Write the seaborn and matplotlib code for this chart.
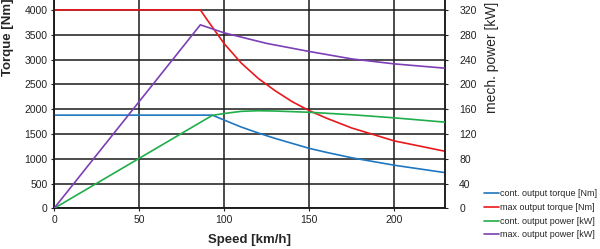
import matplotlib
matplotlib.use("Agg")
import matplotlib.pyplot as plt
import seaborn as sns
import pandas as pd

sns.set_theme(style="white")
plt.rcParams['font.family'] = ['Liberation Sans', 'DejaVu Sans']

# Data
cont_torque_speed = [0, 93, 100, 110, 120, 130, 140, 150, 160, 175, 200, 230]
cont_torque = [1880, 1880, 1780, 1640, 1520, 1410, 1310, 1210, 1130, 1020, 870, 720]

max_torque_speed = [0, 86, 90, 100, 110, 120, 130, 140, 150, 160, 175, 200, 230]
max_torque = [4000, 4000, 3800, 3320, 2930, 2620, 2370, 2150, 1970, 1820, 1620, 1360, 1150]

cont_power_speed = [0, 93, 100, 110, 120, 130, 150, 175, 200, 230]
cont_power = [0, 150, 153, 156.5, 157.5, 157, 155, 151, 146, 139]

max_power_speed = [0, 86, 100, 125, 150, 175, 200, 230]
max_power = [0, 296, 283, 266, 253, 241, 233, 226]

labels = ["cont. output torque [Nm]", "max output torque [Nm]",
          "cont. output power [kW]", "max. output power [kW]"]
colors = ["#1f77c0", "#e8191c", "#1fae4a", "#7d3fb5"]

x_ticks = [0, 50, 100, 150, 200]
y_ticks_left = list(range(0, 4001, 500))
y_ticks_right = list(range(0, 321, 40))

fig = plt.figure(figsize=(6.0, 2.49), dpi=100)
ax = fig.add_axes([0.09, 0.163, 0.651, 0.837])
ax2 = ax.twinx()

df_ct = pd.DataFrame({"speed": cont_torque_speed, "val": cont_torque})
df_mt = pd.DataFrame({"speed": max_torque_speed, "val": max_torque})
df_cp = pd.DataFrame({"speed": cont_power_speed, "val": cont_power})
df_mp = pd.DataFrame({"speed": max_power_speed, "val": max_power})

lw = 1.2
sns.lineplot(data=df_ct, x="speed", y="val", ax=ax, color=colors[0], lw=lw, label=labels[0], legend=False, zorder=5)
sns.lineplot(data=df_mt, x="speed", y="val", ax=ax, color=colors[1], lw=lw, label=labels[1], legend=False, zorder=5)
sns.lineplot(data=df_cp, x="speed", y="val", ax=ax2, color=colors[2], lw=lw, label=labels[2], legend=False, zorder=5)
sns.lineplot(data=df_mp, x="speed", y="val", ax=ax2, color=colors[3], lw=lw, label=labels[3], legend=False, zorder=5)

ax.set_xlim(0, 229.5)
ax.set_ylim(0, 4200)
ax2.set_ylim(0, 336)
ax.set_xticks(x_ticks)
ax.set_yticks(y_ticks_left)
ax2.set_yticks(y_ticks_right)

gc = "#1a1a1a"
ax.grid(True, color=gc, lw=1.1)
ax2.grid(False)
ax.set_axisbelow(True)
for a in (ax, ax2):
    for s in a.spines.values():
        s.set_color(gc)
        s.set_linewidth(1.1)
    a.spines['top'].set_visible(False)
    a.tick_params(labelsize=7.5, colors="#222222", length=2.5, width=0.8, pad=2)
ax.tick_params(axis='both', which='both', left=True, bottom=True)
ax2.tick_params(axis='y', right=True, pad=8)

ax.set_xlabel("Speed [km/h]", fontsize=9.5, fontweight="bold")
ax.xaxis.label.set_va("center")
ax.xaxis.set_label_coords(0.5, -0.153)
ax.set_ylabel("Torque [Nm]", fontsize=9.5, fontweight="bold")
ax.yaxis.label.set_va("center")
ax.yaxis.set_label_coords(-0.118, 0.82)
ax2.set_ylabel("mech. power [kW]", fontsize=10)
ax2.yaxis.label.set_va("center")
ax2.yaxis.set_label_coords(1.122, 0.725)

h1, l1 = ax.get_legend_handles_labels()
h2, l2 = ax2.get_legend_handles_labels()
leg = fig.legend(h1 + h2, l1 + l2, loc="lower right", bbox_to_anchor=(1.005, 0.015),
                 fontsize=6.5, frameon=False, handlelength=1.7, handletextpad=0.1,
                 labelspacing=0.52, borderaxespad=0.25)

fig.savefig("out.png", dpi=100)
